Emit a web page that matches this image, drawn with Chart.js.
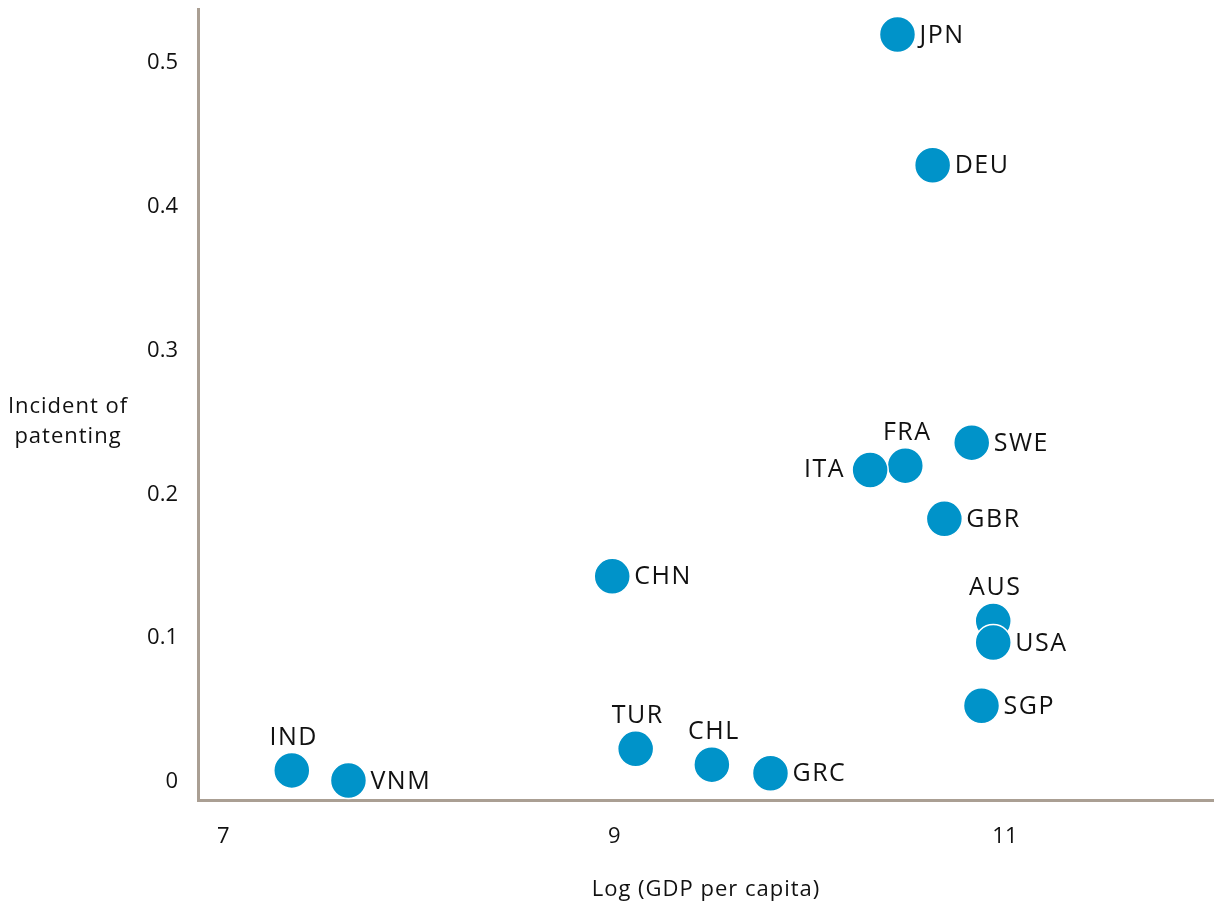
<!DOCTYPE html>
<html>
<head>
<meta charset="utf-8">
<script src="https://cdn.jsdelivr.net/npm/chart.js@4.4.1/dist/chart.umd.min.js"></script>
<style>
  html, body { margin: 0; padding: 0; background: #fff; }
  #wrap { width: 1214px; height: 909px; position: relative; }
</style>
</head>
<body>
<div id="wrap"><canvas id="chart"></canvas></div>
<script>
// 국가 코드, log GDP per capita, 특허 발생률
const countries = ['JPN', 'DEU', 'FRA', 'ITA', 'SWE', 'GBR', 'CHN', 'AUS', 'USA', 'SGP', 'TUR', 'CHL', 'GRC', 'IND', 'VNM'];
const logGdp = [10.45, 10.63, 10.49, 10.31, 10.83, 10.69, 8.99, 10.94, 10.94, 10.88, 9.11, 9.50, 9.80, 7.35, 7.64];
const patenting = [0.520, 0.429, 0.220, 0.217, 0.236, 0.183, 0.143, 0.112, 0.097, 0.053, 0.023, 0.012, 0.006, 0.008, 0.001];
const xTicks = [7, 9, 11];
const yTicks = [0, 0.1, 0.2, 0.3, 0.4, 0.5];

const FONT = '"Open Sans", Lato, sans-serif';
const AXIS_COLOR = '#aa9f93';
const DOT_COLOR = '#0093c9';

// 라벨 위치 (기본값: 오른쪽)
const labelSide = { FRA: 'above', AUS: 'above', TUR: 'above', CHL: 'above', IND: 'above', ITA: 'left' };

// 포인트 라벨 + 축 제목 그리기
const labelPlugin = {
  id: 'pointLabels',
  afterDatasetsDraw(chart) {
    const ctx = chart.ctx;
    const meta = chart.getDatasetMeta(0);
    ctx.save();
    ctx.fillStyle = '#111';
    ctx.font = '25px ' + FONT;
    ctx.letterSpacing = '1.5px';
    ctx.textBaseline = 'middle';
    meta.data.forEach((pt, i) => {
      const name = countries[i];
      const side = labelSide[name] || 'right';
      if (side === 'above') {
        ctx.textAlign = 'center';
        ctx.fillText(name, pt.x + 2, pt.y - 33);
      } else if (side === 'left') {
        ctx.textAlign = 'right';
        ctx.fillText(name, pt.x - 25, pt.y);
      } else {
        ctx.textAlign = 'left';
        ctx.fillText(name, pt.x + 22, pt.y + 1);
      }
    });

    // 축 제목
    ctx.font = '22px ' + FONT;
    ctx.letterSpacing = '1px';
    ctx.textAlign = 'center';
    ctx.fillText('Incident of', 68, 407);
    ctx.fillText('patenting', 68, 437);
    ctx.fillText('Log (GDP per capita)', 706, 890);
    ctx.restore();
  }
};

new Chart(document.getElementById('chart'), {
  type: 'scatter',
  data: {
    datasets: [{
      data: logGdp.map((x, i) => ({ x: x, y: patenting[i] })),
      backgroundColor: DOT_COLOR,
      borderColor: '#ffffff',
      borderWidth: 1.5,
      pointRadius: 18,
      pointHoverRadius: 18,
      clip: false
    }]
  },
  options: {
    responsive: true,
    maintainAspectRatio: false,
    animation: false,
    layout: { autoPadding: false, padding: { top: 9, right: 0, left: 0, bottom: 0 } },
    plugins: { legend: { display: false }, tooltip: { enabled: false } },
    scales: {
      x: {
        type: 'linear',
        min: 6.87,
        max: 12.07,
        afterBuildTicks: s => { s.ticks = xTicks.map(v => ({ value: v })); },
        afterFit: s => { s.height = 109; s.paddingLeft = 0; s.paddingRight = 0; },
        grid: { display: false, drawTicks: false },
        border: { display: true, color: AXIS_COLOR, width: 3 },
        ticks: { color: '#111', font: { family: FONT, size: 22 }, padding: 24, maxRotation: 0 }
      },
      y: {
        type: 'linear',
        min: -0.0126,
        max: 0.5377,
        afterBuildTicks: s => { s.ticks = yTicks.map(v => ({ value: v })); },
        afterFit: s => { s.width = 198; s.paddingTop = 0; s.paddingBottom = 0; },
        grid: { display: false, drawTicks: false },
        border: { display: true, color: AXIS_COLOR, width: 3 },
        ticks: { color: '#111', font: { family: FONT, size: 22 }, padding: 20 }
      }
    }
  },
  plugins: [labelPlugin]
});
</script>
</body>
</html>
